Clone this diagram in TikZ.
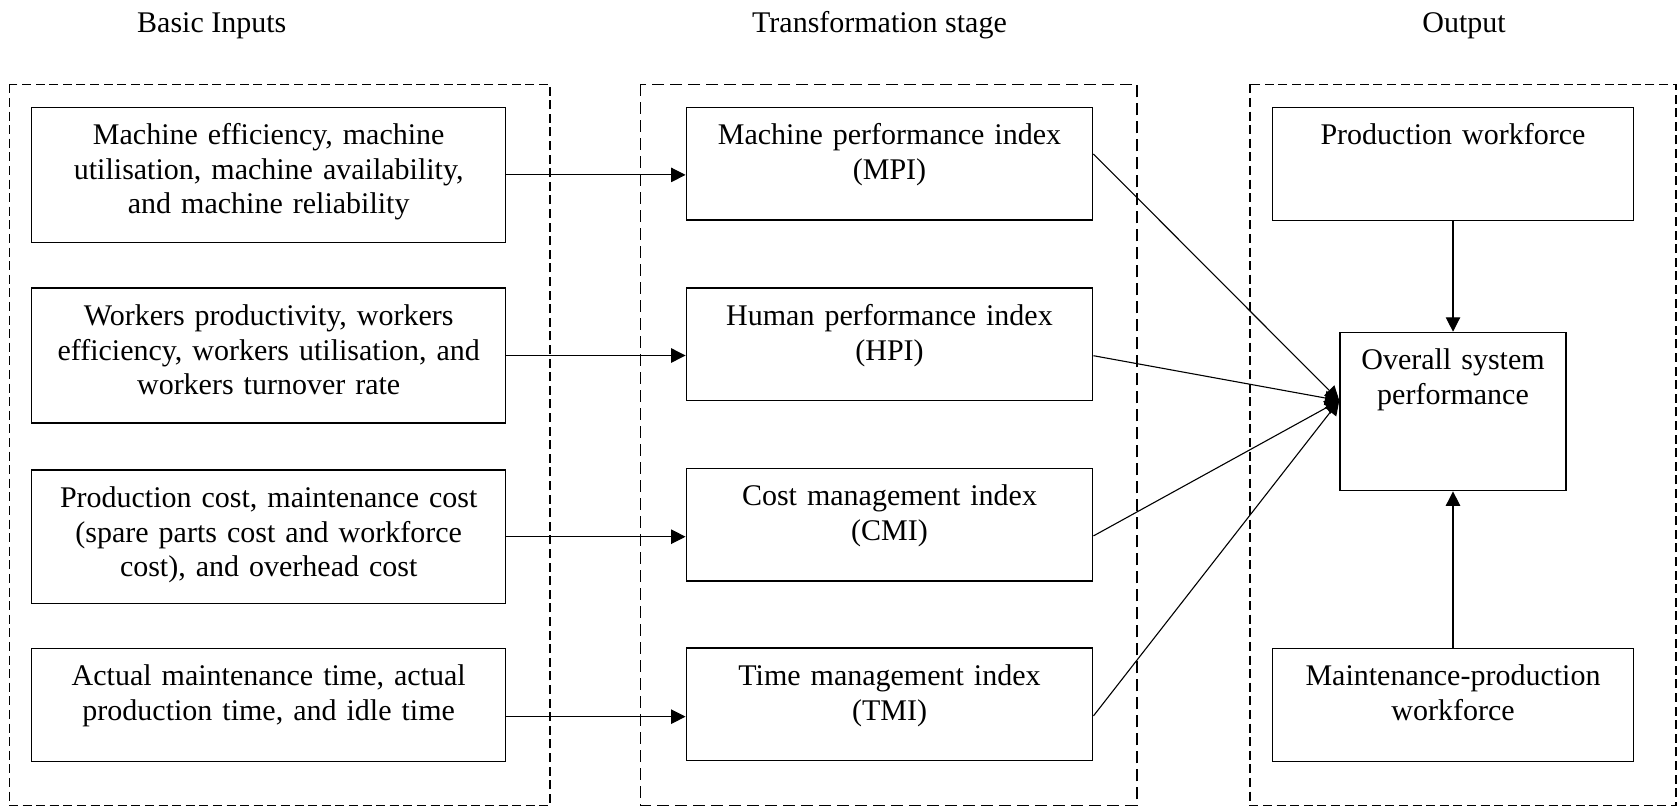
\documentclass[tikz,border=0pt]{standalone}
\usepackage{fontspec}
\setmainfont{Liberation Serif}
\usetikzlibrary{arrows.meta}
\begin{document}
\tikzset{
  every node/.style={font=\fontsize{15pt}{17.25pt}\selectfont},
  header/.style={anchor=base, inner sep=0pt},
  framefine/.style={line width=0.6pt, dash pattern=on 4.5pt off 2.3pt},
  framecoarse/.style={line width=0.6pt, dash pattern=on 6pt off 3pt},
  item/.style 2 args={draw, line width=0.7pt, inner sep=0pt, anchor=north,
    align=center, text width=#1, text height=18.75pt, text depth=#2},
  link/.style={line width=0.55pt, -{Triangle[length=7.2pt,width=7.2pt]}}
}
\begin{tikzpicture}[x=0.5pt,y=-0.5pt]
\useasboundingbox (0,0) rectangle (1679,809);

% stage frames
\draw[framefine]   (9.5,84.3)   rectangle (550,805.7);
\draw[framecoarse] (640.7,84.3) rectangle (1137,805.7);
\draw[framefine]   (1250,84.3)  rectangle (1676,805.7);

% stage headings
\node[header] (hin)  at (211.8,32.3) {Basic Inputs};
\node[header] (htr)  at (879.5,32.3) {Transformation stage};
\node[header] (hout) at (1464,32.3)  {Output};

% basic inputs
\node[item={237pt}{48.75pt}] (b1) at (268.7,106.7)
  {Machine efficiency, machine\\utilisation, machine availability,\\and machine reliability};
\node[item={237pt}{48.75pt}] (b2) at (268.7,287.3)
  {Workers productivity, workers\\efficiency, workers utilisation, and\\workers turnover rate};
\node[item={237pt}{47.95pt}] (b3) at (268.7,469.3)
  {Production cost, maintenance cost\\(spare parts cost and workforce\\cost), and overhead cost};
\node[item={237pt}{37.9pt}] (b4) at (268.7,647.7)
  {Actual maintenance time, actual\\production time, and idle time};

% indices
\node[item={203.25pt}{37.55pt}] (m1) at (889.5,106.7) {Machine performance index\\(MPI)};
\node[item={203.25pt}{37.55pt}] (m2) at (889.5,287.3) {Human performance index\\(HPI)};
\node[item={203.25pt}{37.55pt}] (m3) at (889.5,467.7) {Cost management index\\(CMI)};
\node[item={203.25pt}{37.55pt}] (m4) at (889.5,647.3) {Time management index\\(TMI)};

% output
\node[item={180.75pt}{37.75pt}] (pw) at (1453,106.7) {Production workforce};
\node[item={113pt}{60.4pt}]     (os) at (1453,331.7) {Overall system\\performance};
\node[item={180.75pt}{37.75pt}] (mw) at (1453,647.7) {Maintenance-production\\workforce};

% inputs to indices
\draw[link] (b1.east) -- (b1.east -| m1.west);
\draw[link] (b2.east) -- (b2.east -| m2.west);
\draw[link] (b3.east) -- (b3.east -| m3.west);
\draw[link] ([yshift=-5.8pt]b4.east) -- ([yshift=-5.8pt]b4.east -| m4.west);

% indices to overall performance
\coordinate (hub) at ([yshift=5.5pt]os.west);
\draw[link] ([yshift=4.85pt]m1.east) -- (hub);
\draw[link] ([yshift=-5.7pt]m2.east) -- (hub);
\draw[link] ([yshift=-5.6pt]m3.east) -- (hub);
\draw[link] ([yshift=-5.8pt]m4.east) -- (hub);

% workforce to overall performance
\draw[link] (pw.south) -- (os.north);
\draw[link] (mw.north) -- (os.south);
\end{tikzpicture}
\end{document}
